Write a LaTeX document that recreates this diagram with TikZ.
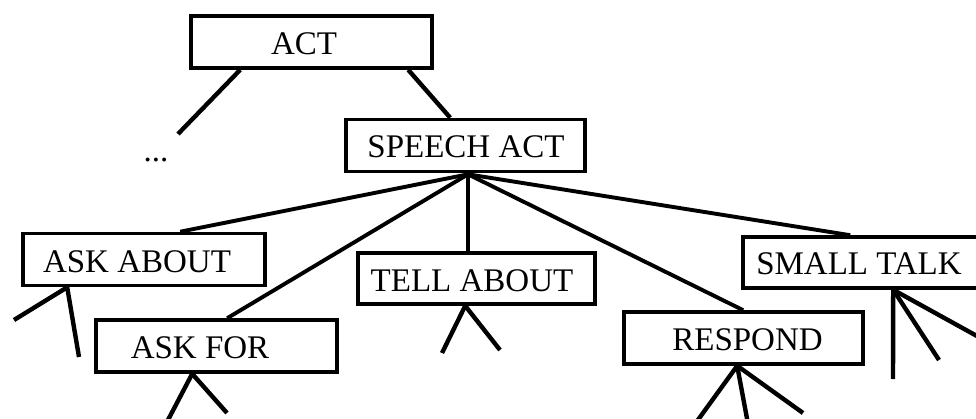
\documentclass[tikz,border=0pt]{standalone}
\usepackage{fontspec}
\setmainfont{Liberation Serif}
\usetikzlibrary{calc}
\begin{document}
\begin{tikzpicture}[x=1pt,y=-1pt,
  box/.style={draw,line width=3.6pt,inner sep=0pt,minimum width=#1,minimum height=52pt},
  lbl/.style={font=\fontsize{33}{39}\selectfont,inner sep=0pt},
  link/.style={line width=4.4pt},
  kind/.style={line width=3.9pt}]
\useasboundingbox (0,0) rectangle (976,419);
\fill[white] (0,0) rectangle (976,419);

% boxes
\node[box=241pt] (act)   at (311.5,42)  {};
\node[box=239pt] (sa)    at (465.5,145.5) {};
\node[box=242pt] (askab) at (144,259.5) {};
\node[box=241pt] (askfor) at (216.5,346) {};
\node[box=237pt,minimum height=51pt] (tell) at (476.5,278.5) {};
\node[box=239pt] (resp)  at (743.5,338) {};
\node[box=235pt,minimum height=51pt] (small) at (860.5,262.5) {};

% labels
\node[lbl] (actT)   at (304,44)    {ACT};
\node[lbl] (saT)    at (466,147)   {SPEECH ACT};
\node[lbl] (askabT) at (137,262)   {ASK ABOUT};
\node[lbl] (askforT) at (200,348)  {ASK FOR};
\node[lbl] (tellT)  at (472,281)   {TELL ABOUT};
\node[lbl] (respT)  at (747.5,340) {RESPOND};
\node[lbl] (smallT) at (859,264)   {SMALL TALK};
\node[lbl] (dots)   at (156,160)   {...};

% free ends of the branches
\coordinate (e0) at (178,134);
\coordinate (a1) at (14,320);  \coordinate (a2) at (79,357);
\coordinate (f1) at (168,420); \coordinate (f2) at (227,413);
\coordinate (t1) at (442,353); \coordinate (t2) at (500,350);
\coordinate (r1) at (695,424); \coordinate (r2) at (748,424); \coordinate (r3) at (803,413);
\coordinate (s1) at (893,379); \coordinate (s2) at (939,360); \coordinate (s3) at (995,346);

% ACT
\draw[link] ($(act.south west)+(51,0)$) -- (e0);
\draw[link] ($(act.south west)+(219,0)$) -- ($(sa.north west)+(106,0)$);

% SPEECH ACT to its kinds
\coordinate (hub) at ($(sa.south)+(2.5,1)$);
\draw[kind] (hub) -- ($(askab.north west)+(159,0)$);
\draw[kind] (hub) -- ($(askfor.north west)+(133,0)$);
\draw[kind] (hub) -- (hub |- tell.north);
\draw[kind] (hub) -- ($(resp.north west)+(121,0)$);
\draw[kind] (hub) -- ($(small.north west)+(109,0)$);

% sub-branches
\draw[link] ($(askab.south west)+(46,0)$) -- (a1);
\draw[link] ($(askab.south west)+(46,0)$) -- (a2);
\draw[link] ($(askfor.south west)+(98,0)$) -- (f1);
\draw[link] ($(askfor.south west)+(98,0)$) -- (f2);
\draw[link] ($(tell.south west)+(109,0)$) -- (t1);
\draw[link] ($(tell.south west)+(109,0)$) -- (t2);
\draw[link] ($(resp.south west)+(115,0)$) -- (r1);
\draw[link] ($(resp.south west)+(115,0)$) -- (r2);
\draw[link] ($(resp.south west)+(115,0)$) -- (r3);
\draw[link] ($(small.south west)+(152,0)$) -- (s1);
\draw[link] ($(small.south west)+(152,0)$) -- (s2);
\draw[link] ($(small.south west)+(152,0)$) -- (s3);
\end{tikzpicture}
\end{document}
